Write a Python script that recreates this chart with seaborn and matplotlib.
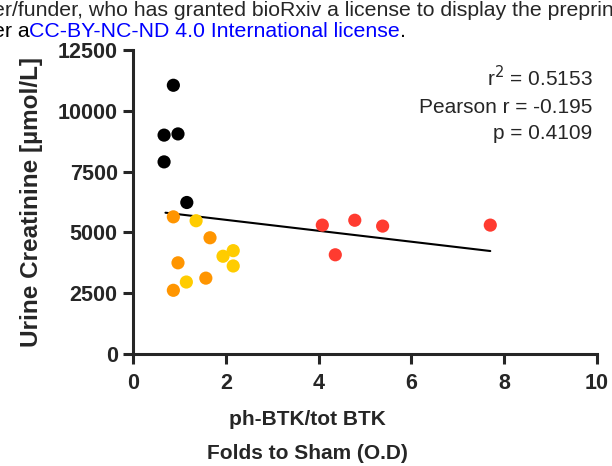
import pandas as pd
import matplotlib.pyplot as plt
import seaborn as sns

# values
black_x = [0.87, 0.67, 0.97, 0.67, 1.16]
black_y = [11050, 9000, 9050, 7900, 6230]
orange_x = [0.87, 0.97, 0.87, 1.57, 1.66]
orange_y = [5640, 3750, 2620, 3120, 4780]
yellow_x = [1.36, 1.15, 1.94, 2.16, 2.16]
yellow_y = [5480, 2960, 4020, 4250, 3620]
red_x = [4.08, 4.36, 4.78, 5.38, 7.7]
red_y = [5300, 4080, 5500, 5260, 5300]

fit_x = [0.7, 7.7]
fit_y = [5810, 4235]

stats_lines = ['r$^2$ = 0.5153', 'Pearson r = -0.195', 'p = 0.4109']

groups = {'black': (black_x, black_y), 'orange': (orange_x, orange_y),
          'yellow': (yellow_x, yellow_y), 'red': (red_x, red_y)}
rows = []
for g, (xs, ys) in groups.items():
    for x, y in zip(xs, ys):
        rows.append({'x': x, 'y': y, 'group': g})
df = pd.DataFrame(rows)

palette = {'black': '#000000', 'orange': '#FF9500', 'yellow': '#FFCC00', 'red': '#FF3B30'}

sns.set_style('ticks')
plt.rcParams['font.family'] = ['Liberation Sans', 'DejaVu Sans']

fig = plt.figure(figsize=(6.12, 4.66), dpi=100)
ax = fig.add_axes([0.2173, 0.2403, 0.7582, 0.6524])

sns.scatterplot(data=df, x='x', y='y', hue='group', palette=palette, s=90,
                linewidth=0, legend=False, ax=ax, zorder=3)
sns.lineplot(x=fit_x, y=fit_y, color='black', linewidth=1.5, ax=ax, zorder=2)

ax.set_xlim(0, 10)
ax.set_ylim(0, 12500)
ax.set_xticks([0, 2, 4, 6, 8, 10])
ax.set_yticks([0, 2500, 5000, 7500, 10000, 12500])
for s in ['top', 'right']:
    ax.spines[s].set_visible(False)
for s in ['left', 'bottom']:
    ax.spines[s].set_linewidth(2.2)
ax.tick_params(width=2.2, length=7, labelsize=15.5)
ax.tick_params(axis='y', pad=4)
ax.tick_params(axis='x', pad=7)
for lab in ax.get_xticklabels() + ax.get_yticklabels():
    lab.set_fontweight('bold')

ax.set_xlabel('ph-BTK/tot BTK\nFolds to Sham (O.D)', fontsize=15, fontweight='bold',
              linespacing=1.95)
ax.xaxis.set_label_coords(0.375, -0.185, transform=ax.transAxes)
ax.xaxis.label.set_va('top')
ax.set_ylabel('Urine Creatinine [µmol/L]', fontsize=17.5, fontweight='bold')
ax.yaxis.set_label_coords(-0.195, 0.5, transform=ax.transAxes)

ax.text(0.99, 0.95, '\n'.join(stats_lines), transform=ax.transAxes, ha='right', va='top',
        fontsize=15, linespacing=1.5)

# header text from the preprint page, cut at the edges
fs = 15.3
fig.text(-0.012, 0.978, 'er/funder, who has granted bioRxiv a license to display the preprint',
         fontsize=fs, va='center', ha='left')
renderer = fig.canvas.get_renderer()
x0 = -0.012
for piece, col in [('er a', 'black'), ('CC-BY-NC-ND 4.0 International license', '#0000FF'),
                   ('.', 'black')]:
    t = fig.text(x0, 0.933, piece, fontsize=fs, va='center', ha='left', color=col)
    bb = t.get_window_extent(renderer)
    x0 = fig.transFigure.inverted().transform((bb.x1, bb.y0))[0]

fig.savefig('out.png', dpi=100)
